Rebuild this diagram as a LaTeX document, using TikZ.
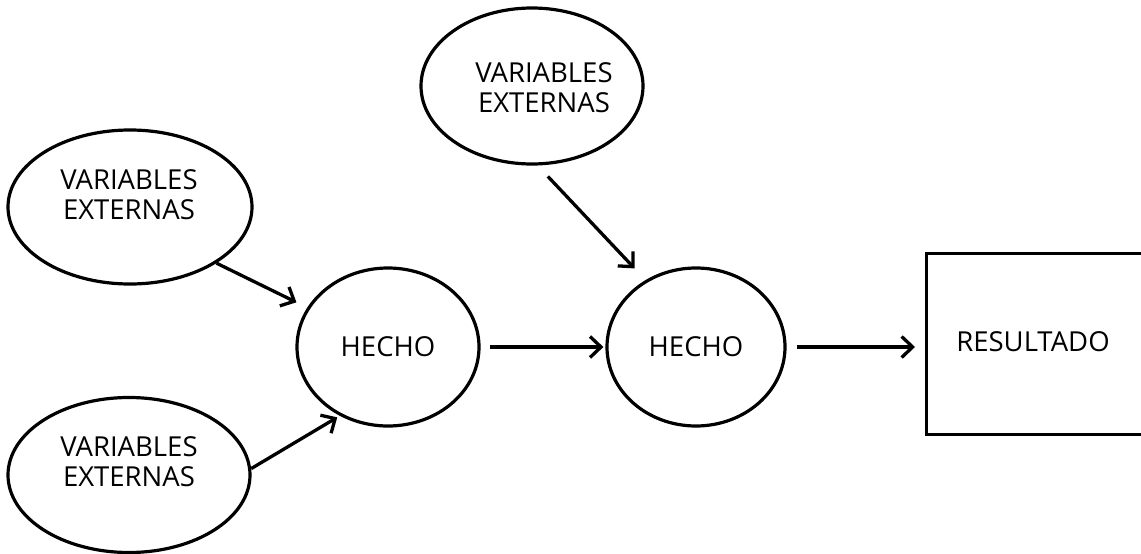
\documentclass[tikz,border=0pt]{standalone}
\usepackage{fontspec}
\setmainfont{Open Sans}
\usetikzlibrary{shapes.geometric,arrows.meta}
\begin{document}
\begin{tikzpicture}[x=1pt,y=-1pt,
  oval/.style={ellipse,draw=black,line width=3.2pt,inner sep=0pt},
  txt/.style={font=\fontsize{27.5}{30}\selectfont,align=center,inner sep=0pt},
  conn/.style={line width=3.3pt,-{Straight Barb[length=11pt,width=21pt]}},
]
\useasboundingbox (0,0) rectangle (1141,554);
\node[oval,minimum width=244pt,minimum height=154pt,
  label={[txt,xshift=-1pt,yshift=12pt]center:VARIABLES\\EXTERNAS}] (ve1) at (130,207) {};
\node[oval,minimum width=242pt,minimum height=155pt,
  label={[txt,yshift=13pt]center:VARIABLES\\EXTERNAS}] (ve2) at (129,475) {};
\node[oval,minimum width=222pt,minimum height=156pt,
  label={[txt,xshift=12pt,yshift=-2pt]center:VARIABLES\\EXTERNAS}] (ve3) at (532,86) {};
\node[oval,minimum width=182pt,minimum height=158pt,txt] (h1) at (388,347) {HECHO};
\node[oval,minimum width=178pt,minimum height=158pt,txt] (h2) at (696,347) {HECHO};
\node[draw=black,line width=3.2pt,rectangle,minimum width=222pt,minimum height=181pt,anchor=north west,inner sep=0pt] (res) at (925,252) {};
\node[txt] (rt) at (1033,342) {RESULTADO};
\coordinate (resin) at (h2.east -| res.west);
\draw[conn,shorten >=12pt] (ve1.-33) -- (h1.154);
\draw[conn,shorten >=3pt] (ve2.3) -- (h1.-125);
\draw[conn,shorten <=15pt,shorten >=16pt] (ve3.-86) -- (h2.127);
\draw[conn,shorten <=9pt,shorten >=2pt] (h1.east) -- (h2.west);
\draw[conn,shorten <=10pt,shorten >=10pt] (h2.east) -- (resin);
\end{tikzpicture}
\end{document}
